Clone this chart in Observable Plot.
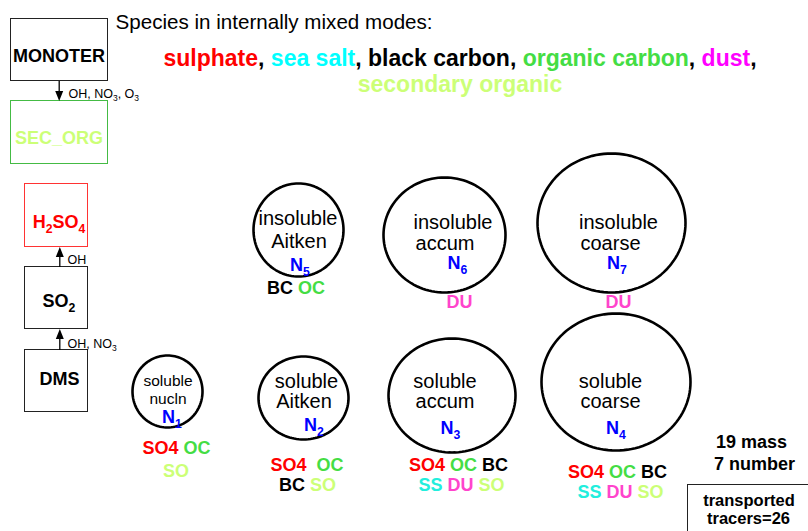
<!DOCTYPE html>
<html><head><meta charset="utf-8">
<script src="https://cdn.jsdelivr.net/npm/d3@7"></script>
<script src="https://cdn.jsdelivr.net/npm/@observablehq/plot@0.6"></script>
<style>body{margin:0;background:#fff;overflow:hidden} svg{display:block}</style>
</head><body><div id="chart"></div>
<script>
const W = 808, H = 531;
const FONT = '"Liberation Sans", Arial, Helvetica, sans-serif';

// ---- species (legend) ----
const speciesNames  = ["sulphate", "sea salt", "black carbon", "organic carbon", "dust", "secondary organic"];
const speciesColors = ["#ff0000", "#00ffff", "#000000", "#44dd44", "#ff00ff", "#ccff77"];
const codeColors = {SO4: "#ff0000", SS: "#22eedd", BC: "#000000", OC: "#44dd44", DU: "#ff44cc", SO: "#ccff77"};

// ---- precursor boxes ----
const boxLabel  = ["MONOTER", "SEC_ORG", "H~2SO~4", "SO~2", "DMS"];
const boxLeft   = [10.5, 10.5, 24.5, 24.5, 24.5];
const boxRight  = [107.5, 107.5, 87.5, 87.5, 87.5];
const boxTop    = [18.5, 100.5, 183.5, 266.5, 349.5];
const boxBottom = [80.5, 163.5, 246.5, 328.5, 411.5];
const boxStroke = ["#222222", "#44bb44", "#ff3333", "#222222", "#222222"];
const boxText   = ["#000000", "#ccff77", "#ff0000", "#000000", "#000000"];
const boxTextX  = [58.5, 58.5, 58.5, 58.5, 59];
const boxTextY  = [61, 143, 227, 306, 384];

// ---- reactions (arrows) ----
const arrowX     = [58.7, 59.3, 59.3];
const arrowFrom  = [80.5, 266.5, 349.5];
const arrowTo    = [100.5, 246.5, 328.5];
const arrowLabel = ["OH, NO~3, O~3", "OH", "OH, NO~3"];
const arrowLabelX = [68, 67, 67];
const arrowLabelY = [97, 263, 347];

// ---- aerosol modes ----
const modeLine1 = ["soluble", "soluble", "soluble", "soluble", "insoluble", "insoluble", "insoluble"];
const modeLine2 = ["nucln", "Aitken", "accum", "coarse", "Aitken", "accum", "coarse"];
const modeCx = [167, 303, 451.5, 615.5, 298, 444, 611];
const modeCy = [391, 397.5, 395, 381.5, 229.5, 234.5, 222.5];
const modeRx = [35, 45, 63.5, 74.5, 45, 61, 74];
const modeRy = [36, 41.5, 57, 68.5, 46.5, 57.5, 69.5];
const modeTextSize = [15.5, 20, 20, 20, 20, 20, 20];
const modeLine1X = [167.5, 306, 444.5, 610, 297.5, 452.5, 618];
const modeLine1Y = [385, 387, 387, 387, 224, 228, 228];
const modeLine2X = [167.5, 303.5, 444.5, 610, 298.5, 444.5, 610];
const modeLine2Y = [403.5, 407, 407, 407, 247, 249, 249];
const modeNX = [171.5, 313.5, 450, 615.5, 299.5, 457, 616.5];
const modeNY = [422, 430, 433, 433, 270, 268, 268];
const modeSpecies1 = ["SO4 OC", "SO4  OC", "SO4 OC BC", "SO4 OC BC", "BC OC", "DU", "DU"];
const modeSpecies2 = ["SO", "BC SO", "SS DU SO", "SS DU SO", "", "", ""];
const modeSp1X = [176, 306.5, 458, 617, 295.5, 459, 618];
const modeSp1Y = [453, 470, 470, 477, 293, 307, 307];
const modeSp2X = [175.5, 307, 461, 620, 0, 0, 0];
const modeSp2Y = [476, 490, 490, 497, 0, 0, 0];

// ---- tracer counts ----
const countLines = ["19 mass", "7 number"];
const countX = [751, 754];
const countY = [447, 469];
const tracerLines = ["transported", "tracers=26"];
const tracerX = [748.5, 748];
const tracerY = [505.5, 523];
const tracerBox = {x1: 687.5, x2: 830, y1: 484.5, y2: 560};

// ---------- rich-text layout helper ----------
const ctx = document.createElement("canvas").getContext("2d");
function measure(t, size, weight) { ctx.font = `${weight} ${size}px ${FONT}`; return ctx.measureText(t).width; }
function parseSub(str, fill) { // "~x" => subscript char x
  const segs = []; let buf = "";
  for (let i = 0; i < str.length; i++) {
    if (str[i] === "~" && i + 1 < str.length) { if (buf) segs.push({t: buf, fill, sub: false}); buf = ""; segs.push({t: str[i + 1], fill, sub: true}); i++; }
    else buf += str[i];
  }
  if (buf) segs.push({t: buf, fill, sub: false});
  return segs;
}
const pieces = [];
function place(x, baseline, anchor, size, weight, segs) {
  const widths = segs.map(s => measure(s.t, s.sub ? size * 0.68 : size, weight));
  const total = d3.sum(widths);
  let cx = anchor === "middle" ? x - total / 2 : x;
  segs.forEach((s, i) => {
    const fs = s.sub ? size * 0.68 : size;
    const lead = s.t.match(/^\s*/)[0];
    const txt = s.t.trim();
    const off = lead ? measure(lead, fs, weight) : 0;
    const by = baseline + (s.sub ? size * 0.28 : 0);
    if (txt) pieces.push({x: cx + off, y: by - 0.32 * fs, text: txt, fill: s.fill, size: fs, weight});
    cx += widths[i];
  });
}
function speciesSegs(str) { // "SO4 OC" -> coloured segments
  return str.split(/(\s+)/).filter(s => s.length).map(s => ({t: s, fill: codeColors[s] || "#000", sub: false}));
}

// title + legend
place(115, 28.5, "start", 20.6, "normal", [{t: "Species in internally mixed modes:", fill: "#000", sub: false}]);
const legendSegs = [];
speciesNames.slice(0, 5).forEach((n, i) => {
  legendSegs.push({t: n, fill: speciesColors[i], sub: false});
  legendSegs.push({t: i < 4 ? ", " : ",", fill: "#000", sub: false});
});
place(163, 65, "start", 23, "bold", legendSegs);
place(459.5, 91, "middle", 23, "bold", [{t: speciesNames[5], fill: speciesColors[5], sub: false}]);

// boxes
boxLabel.forEach((b, i) => place(boxTextX[i], boxTextY[i], "middle", 18, "bold", parseSub(b, boxText[i])));
arrowLabel.forEach((a, i) => place(arrowLabelX[i], arrowLabelY[i], "start", 12.5, "normal", parseSub(a, "#000")));

// modes
modeLine1.forEach((m, i) => {
  place(modeLine1X[i], modeLine1Y[i], "middle", modeTextSize[i], "normal", [{t: m, fill: "#000", sub: false}]);
  place(modeLine2X[i], modeLine2Y[i], "middle", modeTextSize[i], "normal", [{t: modeLine2[i], fill: "#000", sub: false}]);
  place(modeNX[i], modeNY[i], "middle", 18, "bold", parseSub("N~" + (i + 1), "#0000ff"));
  place(modeSp1X[i], modeSp1Y[i], "middle", 18, "bold", speciesSegs(modeSpecies1[i]));
  if (modeSpecies2[i]) place(modeSp2X[i], modeSp2Y[i], "middle", 18, "bold", speciesSegs(modeSpecies2[i]));
});
countLines.forEach((c, i) => place(countX[i], countY[i], "middle", 18, "bold", [{t: c, fill: "#000", sub: false}]));
tracerLines.forEach((c, i) => place(tracerX[i], tracerY[i], "middle", 16.5, "bold", [{t: c, fill: "#000", sub: false}]));

// geometry tables
const boxes = boxLabel.map((b, i) => ({x1: boxLeft[i], x2: boxRight[i], y1: boxTop[i], y2: boxBottom[i], stroke: boxStroke[i]}));
boxes.push({...tracerBox, stroke: "#222222"});
const arrows = arrowX.map((x, i) => ({x, from: arrowFrom[i], to: arrowTo[i], dir: Math.sign(arrowTo[i] - arrowFrom[i])}));
const HEAD = 5;
const ellipsePts = [];
modeCx.forEach((cx, i) => {
  for (let k = 0; k < 120; k++) {
    const a = 2 * Math.PI * k / 120;
    ellipsePts.push({id: i, x: cx + modeRx[i] * Math.cos(a), y: modeCy[i] + modeRy[i] * Math.sin(a)});
  }
});
const triDown = {draw(c, size) { const r = Math.sqrt(size / Math.PI); c.moveTo(-0.8 * r, -r); c.lineTo(0.8 * r, -r); c.lineTo(0, r); c.closePath(); }};
const triUp = {draw(c, size) { const r = Math.sqrt(size / Math.PI); c.moveTo(-0.8 * r, r); c.lineTo(0.8 * r, r); c.lineTo(0, -r); c.closePath(); }};

const chart = Plot.plot({
  width: W, height: H, margin: 0,
  x: {domain: [0, W], range: [0, W], axis: null},
  y: {domain: [0, H], range: [0, H], axis: null},
  color: {type: "identity"},
  style: {fontFamily: FONT, background: "#ffffff", overflow: "hidden"},
  marks: [
    Plot.rect(boxes, {x1: "x1", x2: "x2", y1: "y1", y2: "y2", fill: "#ffffff", stroke: "stroke", strokeWidth: 1}),
    Plot.link(arrows, {x1: "x", x2: "x", y1: "from", y2: d => d.to - d.dir * HEAD, stroke: "#000", strokeWidth: 1.3}),
    Plot.dot(arrows.filter(d => d.dir > 0), {x: "x", y: d => d.to - HEAD, r: HEAD, symbol: triDown, fill: "#000", stroke: "none"}),
    Plot.dot(arrows.filter(d => d.dir < 0), {x: "x", y: d => d.to + HEAD, r: HEAD, symbol: triUp, fill: "#000", stroke: "none"}),
    Plot.line(ellipsePts, {x: "x", y: "y", z: "id", curve: "linear-closed", stroke: "#000", strokeWidth: 2.6}),
    Plot.text(pieces.filter(p => p.weight === "normal"), {x: "x", y: "y", text: "text", fill: "fill", fontSize: d => d.size, textAnchor: "start", lineAnchor: "middle"}),
    Plot.text(pieces.filter(p => p.weight === "bold"), {x: "x", y: "y", text: "text", fill: "fill", fontSize: d => d.size, fontWeight: "bold", textAnchor: "start", lineAnchor: "middle"})
  ]
});
document.getElementById("chart").appendChild(chart);
</script>
</body></html>
